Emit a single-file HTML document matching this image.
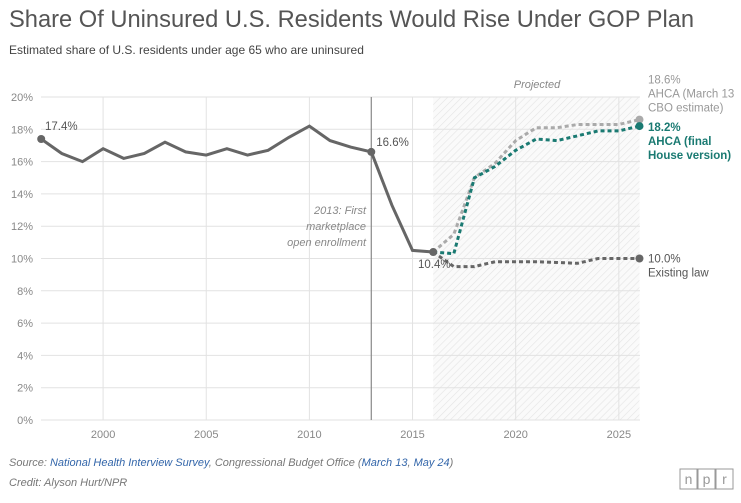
<!DOCTYPE html>
<html><head><meta charset="utf-8"><style>
body{margin:0;background:#fff;font-family:"Liberation Sans",sans-serif;}
svg text{font-family:"Liberation Sans",sans-serif;}
</style></head><body>
<svg width="741" height="498" xmlns="http://www.w3.org/2000/svg">
<defs><pattern id="hatch" width="5" height="5" patternUnits="userSpaceOnUse" patternTransform="rotate(45)"><rect width="5" height="5" fill="#fafafa"/><line x1="0" y1="0" x2="0" y2="5" stroke="#e4e4e4" stroke-width="1.2"/></pattern></defs>
<text x="9" y="27" font-size="23.7" fill="#555">Share Of Uninsured U.S. Residents Would Rise Under GOP Plan</text>
<text x="9" y="54" font-size="12" fill="#444">Estimated share of U.S. residents under age 65 who are uninsured</text>
<g id="plot"></g>
<text x="9" y="466" font-size="11" fill="#777" font-style="italic">Source: <tspan fill="#3366aa">National Health Interview Survey</tspan>, Congressional Budget Office (<tspan fill="#3366aa">March 13</tspan>, <tspan fill="#3366aa">May 24</tspan>)</text>
<text x="9" y="486" font-size="11" fill="#777" font-style="italic">Credit: Alyson Hurt/NPR</text>
<g>
<rect x="680" y="469" width="17" height="20" fill="none" stroke="#999"/><text x="688.5" y="484" font-size="14" fill="#999" text-anchor="middle">n</text>
<rect x="698" y="469" width="17" height="20" fill="none" stroke="#999"/><text x="706.5" y="484" font-size="14" fill="#999" text-anchor="middle">p</text>
<rect x="716" y="469" width="17" height="20" fill="none" stroke="#999"/><text x="724.5" y="484" font-size="14" fill="#999" text-anchor="middle">r</text>
</g>
</svg>
<script>
const histYears=[1997,1998,1999,2000,2001,2002,2003,2004,2005,2006,2007,2008,2009,2010,2011,2012,2013,2014,2015,2016];
const histValues=[17.4,16.5,16.0,16.8,16.2,16.5,17.2,16.6,16.4,16.8,16.4,16.7,17.5,18.2,17.3,16.9,16.6,13.3,10.5,10.4];
const projYears=[2016,2017,2018,2019,2020,2021,2022,2023,2024,2025,2026];
const existingLaw=[10.4,9.5,9.5,9.8,9.8,9.8,9.75,9.7,10.0,10.0,10.0];
const ahcaFinal=[10.4,10.3,15.0,15.7,16.7,17.4,17.3,17.6,17.9,17.9,18.2];
const ahcaMarch=[10.4,11.5,15.0,15.9,17.3,18.1,18.1,18.3,18.3,18.3,18.6];
const yTicks=[0,2,4,6,8,10,12,14,16,18,20];
const xTicks=[2000,2005,2010,2015,2020,2025];
const NS="http://www.w3.org/2000/svg";
const g=document.getElementById('plot');
const X=y=>41.2+(y-1997)*20.63;
const Y=v=>420-v*16.15;
function el(t,a,p){const e=document.createElementNS(NS,t);for(const k in a)e.setAttribute(k,a[k]);(p||g).appendChild(e);return e;}
function txt(x,y,s,a){const e=el('text',Object.assign({x:x,y:y},a));e.textContent=s;return e;}
let r=el('rect',{x:X(2016),y:Y(20),width:X(2026)-X(2016),height:Y(0)-Y(20),fill:'url(#hatch)'});


yTicks.forEach(v=>{let l=el('line',{x1:41,x2:640,y1:Y(v),y2:Y(v),stroke:'#e2e2e2'});


let t=txt(33,Y(v)+4,v+'%',{'font-size':11,fill:'#888','text-anchor':'end'});

});
xTicks.forEach(v=>{let l=el('line',{x1:X(v),x2:X(v),y1:Y(20),y2:Y(0),stroke:'#e2e2e2'});


let t=txt(X(v),438,String(v),{'font-size':11,fill:'#888','text-anchor':'middle'});

});
let vl=el('line',{x1:X(2013),x2:X(2013),y1:Y(20),y2:Y(0),stroke:'#888','stroke-width':1.2});


[['2013: First',214],['marketplace',230],['open enrollment',246]].forEach(a=>{let t=txt(366,a[1],a[0],{'font-size':11,fill:'#888','font-style':'italic','text-anchor':'end'});

});
let pj=txt(537,88,'Projected',{'font-size':11,fill:'#888','font-style':'italic','text-anchor':'middle'});


function line(ys,vs,color,dash,name){const d=ys.map((y,i)=>(i?'L':'M')+X(y).toFixed(1)+','+Y(vs[i]).toFixed(1)).join('');
const p=el('path',{d:d,fill:'none',stroke:color,'stroke-width':3,'stroke-dasharray':dash||'none'});


const c=el('circle',{cx:X(ys[ys.length-1]),cy:Y(vs[vs.length-1]),r:4,fill:color});

}
line(projYears,existingLaw,'#666','4 3','existing-law-line');
line(projYears,ahcaMarch,'#aaa','4 3','ahca-march-line');
line(projYears,ahcaFinal,'#1a7a72','4 3','ahca-final-line');
line(histYears,histValues,'#666','','historical-line');
[[1997,histValues[0]],[2013,histValues[16]]].forEach(a=>{let c=el('circle',{cx:X(a[0]),cy:Y(a[1]),r:4,fill:'#666'});

});
function lab(x,y,s,c,w,n){let t=txt(x,y,s,{'font-size':11.5,fill:c,'font-weight':w||'normal'});

}
lab(45,Y(histValues[0])-9,histValues[0]+'%','#555','','label-1997');
lab(X(2013)+5,Y(histValues[16])-6,histValues[16]+'%','#555','','label-2013');
lab(418,Y(histValues[19])+16,histValues[19]+'%','#555','','label-2016');
lab(648,Y(ahcaMarch[10])-36,ahcaMarch[10]+'%','#999','','label-ahca-march-value');
lab(648,Y(ahcaMarch[10])-22,'AHCA (March 13','#999','','label-ahca-march-name');
lab(648,Y(ahcaMarch[10])-8,'CBO estimate)','#999','','label-ahca-march-name-2');
lab(648,Y(ahcaFinal[10])+5,ahcaFinal[10].toFixed(1)+'%','#1a7a72','bold','label-ahca-final-value');
lab(648,Y(ahcaFinal[10])+19,'AHCA (final','#1a7a72','bold','label-ahca-final-name');
lab(648,Y(ahcaFinal[10])+33,'House version)','#1a7a72','bold','label-ahca-final-name-2');
lab(648,Y(existingLaw[10])+4,existingLaw[10].toFixed(1)+'%','#555','','label-existing-value');
lab(648,Y(existingLaw[10])+18,'Existing law','#555','','label-existing-name');
</script>
</body></html>
